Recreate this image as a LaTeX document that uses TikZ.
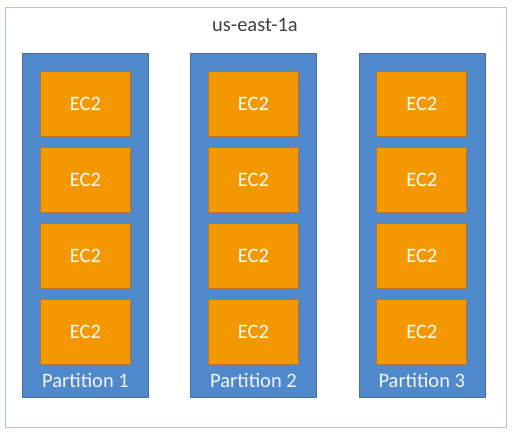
\documentclass[tikz,border=0pt]{standalone}
\usepackage{fontspec}
\setmainfont{Carlito}
\usepackage{xcolor}
\usepackage{tikz}
\usetikzlibrary{positioning}
\definecolor{azblue}{HTML}{4F88CB}
\definecolor{azedge}{HTML}{41719C}
\definecolor{ecorange}{HTML}{F39800}
\definecolor{ecedge}{HTML}{B7762C}
\definecolor{zoneedge}{HTML}{A9C6E6}
\definecolor{zonetext}{HTML}{404040}

\begin{document}
\begin{tikzpicture}[x=1pt, y=-1pt, line join=round,
    zonebox/.style={draw=zoneedge, line width=1, fill=white},
    partbox/.style={draw=azedge, line width=0.6, fill=azblue, inner sep=0,
      minimum width=126pt, minimum height=344pt},
    ecbox/.style={draw=ecedge, line width=1, fill=ecorange, inner sep=0,
      minimum width=90pt, minimum height=65pt, text=white,
      font=\fontsize{20.5}{24}\selectfont},
    partlabel/.style={text=white!92!azblue, font=\fontsize{20.5}{24}\selectfont}]
  \useasboundingbox (0,0) rectangle (512,432);
  % zone
  \draw[zonebox] (5,7) rectangle (506,427);
  \node[text=zonetext, font=\fontsize{20.5}{24}\selectfont] (zone) at (255,25) {us-east-1a};
  % partitions
  \foreach \i/\x in {1/85.5, 2/253.5, 3/421.8} {
    \node[partbox] (p\i) at (\x,225) {};
    \foreach \j/\y in {1/103.5, 2/179.5, 3/255.5, 4/331.5}
      \node[ecbox] (ec\i\j) at (\x,\y) {EC2};
    \node[partlabel] (lab\i) at (\x,380) {Partition \i};
  }
\end{tikzpicture}
\end{document}
